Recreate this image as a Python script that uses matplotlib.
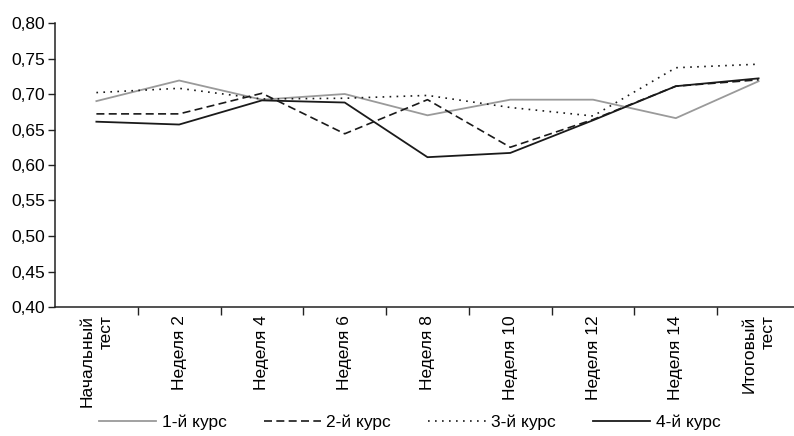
import matplotlib
matplotlib.use("Agg")
import matplotlib.pyplot as plt

# Data
categories = ["Начальный\nтест", "Неделя 2", "Неделя 4", "Неделя 6", "Неделя 8",
              "Неделя 10", "Неделя 12", "Неделя 14", "Итоговый\nтест"]
course1 = [0.690, 0.719, 0.692, 0.700, 0.670, 0.692, 0.692, 0.666, 0.718]
course2 = [0.672, 0.672, 0.701, 0.644, 0.692, 0.625, 0.664, 0.711, 0.720]
course3 = [0.702, 0.708, 0.693, 0.694, 0.698, 0.681, 0.669, 0.737, 0.742]
course4 = [0.661, 0.657, 0.691, 0.688, 0.611, 0.617, 0.663, 0.711, 0.722]
series_labels = ["1-й курс", "2-й курс", "3-й курс", "4-й курс"]
yticks = [0.40, 0.45, 0.50, 0.55, 0.60, 0.65, 0.70, 0.75, 0.80]

plt.rcParams["font.family"] = ["Liberation Sans", "DejaVu Sans"]
fs = 12.5

fig = plt.figure(figsize=(7.94, 4.36), dpi=100)
ax = fig.add_axes([55 / 794, (436 - 307) / 436, 745 / 794, 284 / 436])

x = list(range(len(categories)))
ax.plot(x, course1, color="#9a9a9a", lw=1.3, label=series_labels[0])
ax.plot(x, course2, color="#1a1a1a", lw=1.2, dashes=(4.8, 2.6), label=series_labels[1])
ax.plot(x, course3, color="#1a1a1a", lw=1.2, dashes=(1, 3.2), label=series_labels[2])
ax.plot(x, course4, color="#1a1a1a", lw=1.3, label=series_labels[3])

ax.set_xlim(-0.5, len(categories) - 0.5)
ax.set_ylim(0.40, 0.80)
ax.set_yticks(yticks)
ax.set_yticklabels([f"{v:.2f}".replace(".", ",") for v in yticks], fontsize=fs)

# Category labels centred between boundary ticks
ax.set_xticks(x)
ax.set_xticklabels(categories, rotation=90, fontsize=fs, va="top", ha="center",
                   linespacing=1.35, multialignment="right")
ax.tick_params(axis="x", which="major", length=0, pad=6)
ax.set_xticks([i + 0.5 for i in range(len(categories) - 1)], minor=True)
ax.tick_params(axis="x", which="minor", length=6, width=1, direction="out", color="#222222")
ax.tick_params(axis="y", length=5, width=1, direction="out", color="#222222", pad=2)

for side in ("top", "right"):
    ax.spines[side].set_visible(False)
for side in ("left", "bottom"):
    ax.spines[side].set_linewidth(1.1)
    ax.spines[side].set_color("#222222")

fig.legend(loc="center", bbox_to_anchor=(0.516, 14 / 436), ncol=4, frameon=False,
           fontsize=fs, handlelength=3.3, columnspacing=2.15, handletextpad=0.3)

fig.savefig("out.png", dpi=100)
